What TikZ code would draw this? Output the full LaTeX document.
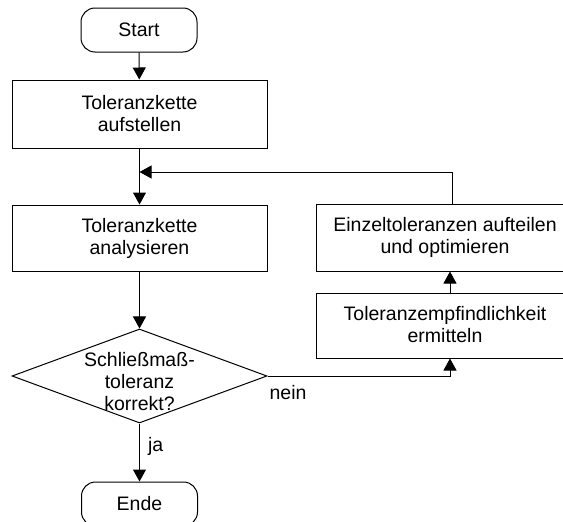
\documentclass[tikz,border=0pt]{standalone}
\usepackage{fontspec}
\setmainfont{Liberation Sans}
\usetikzlibrary{shapes.geometric,arrows.meta}
\begin{document}
\begin{tikzpicture}[x=1pt,y=-1pt,
  every node/.style={font=\fontsize{19.5}{22}\selectfont, align=center, inner sep=0pt},
  terminal/.style={draw, line width=1pt, rounded corners=14pt, minimum width=116pt, minimum height=44pt},
  process/.style={draw, line width=1pt, minimum width=255pt},
  decision/.style={draw, line width=1pt, diamond, minimum width=255pt, minimum height=94pt},
  flow/.style={line width=1pt, -{Triangle[length=12pt,width=13pt]}}]
\useasboundingbox (0,0) rectangle (563,522);
\clip (0,0) rectangle (563,522);

% main column
\node[terminal] (start) at (139,30) {Start};
\node[process, minimum height=68pt] (b1) at (139.5,114) {Toleranzkette\\aufstellen};
\node[process, minimum height=66pt] (b2) at (139.5,238) {Toleranzkette\\analysieren};
\node[decision] (dec) at (139.5,376) {};
\node (dectext) at (139.5,382) {Schließmaß-\\toleranz\\korrekt?};
\node[terminal] (ende) at (139.5,504) {Ende};

% correction loop, boxes run past the right edge
\node[process, minimum width=262pt, minimum height=67pt] (b3) at (447,237.5) {};
\node (b3text) at (445,237.5) {Einzeltoleranzen aufteilen\\und optimieren};
\node[process, minimum width=262pt, minimum height=65pt] (b4) at (447,325.5) {};
\node (b4text) at (445,324.5) {Toleranzempfindlichkeit\\ermitteln};
\coordinate (loop) at (452,172);
\coordinate (merge) at (139.5,172);
\coordinate (up) at (450,0);

% connectors
\draw[flow] (start) -- (b1);
\draw[flow] (b1) -- (b2);
\draw[flow] (b3.north -| loop) |- (merge);
\draw[flow] (b2) -- (dec);
\draw[flow] (dec) -- node[pos=0.4, right=8pt] (ja) {ja} (ende);
\draw[flow] (dec.east) -| (b4.south -| up);
\node (nein) at (288,393) {nein};
\draw[flow] (b4.north -| up) -- (b3.south -| up);
\end{tikzpicture}
\end{document}
